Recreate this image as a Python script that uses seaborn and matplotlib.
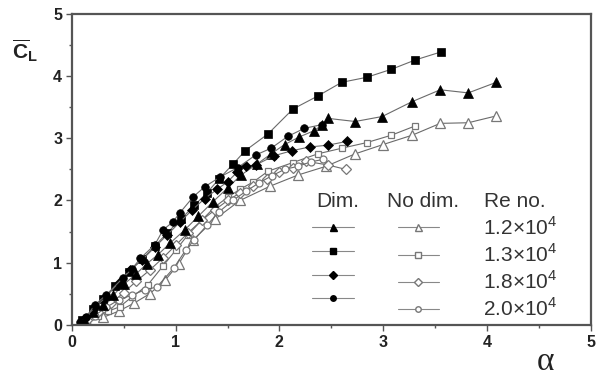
import numpy as np
import matplotlib
matplotlib.use('Agg')
import matplotlib.pyplot as plt
import seaborn as sns
from matplotlib.lines import Line2D

# Dimensional data (filled symbols)
x_d12 = [0.12, 0.2, 0.3, 0.4, 0.5, 0.62, 0.72, 0.83, 0.95, 1.09, 1.22, 1.36, 1.5, 1.63,
         1.78, 1.92, 2.05, 2.19, 2.33, 2.41, 2.47, 2.73, 2.99, 3.28, 3.55, 3.82, 4.09]
y_d12 = [0.08, 0.2, 0.32, 0.48, 0.65, 0.82, 0.98, 1.13, 1.32, 1.53, 1.75, 1.98, 2.2, 2.41,
         2.58, 2.75, 2.9, 3.02, 3.12, 3.21, 3.32, 3.27, 3.35, 3.59, 3.78, 3.73, 3.9]
x_d13 = [0.1, 0.2, 0.3, 0.42, 0.55, 0.68, 0.8, 0.92, 1.05, 1.18, 1.3, 1.42, 1.55, 1.67,
         1.89, 2.13, 2.37, 2.6, 2.84, 3.08, 3.31, 3.56]
y_d13 = [0.08, 0.25, 0.42, 0.62, 0.85, 1.06, 1.27, 1.48, 1.7, 1.92, 2.12, 2.35, 2.58, 2.8,
         3.07, 3.47, 3.68, 3.9, 3.98, 4.11, 4.26, 4.39]
x_d18 = [0.12, 0.22, 0.33, 0.45, 0.56, 0.68, 0.8, 0.92, 1.04, 1.16, 1.28, 1.4, 1.5, 1.59,
         1.68, 1.77, 1.95, 2.12, 2.29, 2.47, 2.65]
y_d18 = [0.1, 0.28, 0.45, 0.68, 0.88, 1.05, 1.25, 1.45, 1.65, 1.85, 2.03, 2.18, 2.3, 2.45,
         2.55, 2.57, 2.72, 2.8, 2.86, 2.89, 2.95]
x_d20 = [0.08, 0.14, 0.22, 0.33, 0.49, 0.58, 0.66, 0.8, 0.88, 0.97, 1.04, 1.17, 1.28, 1.43,
         1.6, 1.77, 1.92, 2.08, 2.24, 2.41]
y_d20 = [0.05, 0.13, 0.32, 0.48, 0.75, 0.9, 1.07, 1.29, 1.53, 1.65, 1.8, 2.06, 2.22, 2.38,
         2.53, 2.73, 2.84, 3.03, 3.16, 3.22]

# Non-dimensional data (open symbols)
x_n12 = [0.15, 0.3, 0.45, 0.6, 0.75, 0.9, 1.03, 1.17, 1.38, 1.62, 1.91, 2.18, 2.45, 2.73,
         3.0, 3.28, 3.55, 3.82, 4.09]
y_n12 = [0.05, 0.12, 0.22, 0.35, 0.5, 0.72, 0.98, 1.37, 1.70, 2.0, 2.23, 2.41, 2.55, 2.75,
         2.9, 3.05, 3.24, 3.25, 3.36]
x_n13 = [0.15, 0.25, 0.35, 0.46, 0.58, 0.73, 0.88, 1.0, 1.12, 1.25, 1.38, 1.5, 1.62, 1.75,
         1.89, 2.13, 2.37, 2.6, 2.84, 3.08, 3.31]
y_n13 = [0.05, 0.15, 0.22, 0.29, 0.45, 0.64, 0.95, 1.2, 1.45, 1.68, 1.9, 2.05, 2.18, 2.3,
         2.47, 2.61, 2.75, 2.84, 2.93, 3.05, 3.2]
x_n18 = [0.15, 0.25, 0.38, 0.5, 0.62, 0.75, 0.88, 1.0, 1.12, 1.25, 1.38, 1.5, 1.62, 1.75,
         1.88, 2.0, 2.13, 2.26, 2.47, 2.64]
y_n18 = [0.08, 0.2, 0.35, 0.52, 0.7, 0.88, 1.08, 1.28, 1.48, 1.68, 1.85, 2.0, 2.12, 2.24,
         2.35, 2.45, 2.52, 2.63, 2.57, 2.50]
x_n20 = [0.12, 0.22, 0.33, 0.45, 0.58, 0.7, 0.82, 0.98, 1.1, 1.18, 1.3, 1.42, 1.55, 1.68,
         1.8, 1.93, 2.05, 2.18, 2.3, 2.42]
y_n20 = [0.05, 0.15, 0.28, 0.4, 0.48, 0.56, 0.61, 0.91, 1.21, 1.37, 1.6, 1.82, 2.0, 2.15,
         2.28, 2.4, 2.5, 2.55, 2.62, 2.66]

re_labels = ['1.2×10$^4$', '1.3×10$^4$', '1.8×10$^4$', '2.0×10$^4$']
tick_vals = [0, 1, 2, 3, 4, 5]
tick_labels = ['0', '1', '2', '3', '4', '5']
markers = ['^', 's', 'D', 'o']
marker_sizes = [7, 5.5, 5.5, 5.5]

dim_series = [(x_d12, y_d12), (x_d13, y_d13), (x_d18, y_d18), (x_d20, y_d20)]
nodim_series = [(x_n12, y_n12), (x_n13, y_n13), (x_n18, y_n18), (x_n20, y_n20)]

sns.set_style('ticks')
plt.rcParams['font.family'] = ['Liberation Sans', 'DejaVu Sans']
plt.rcParams['mathtext.fontset'] = 'custom'
plt.rcParams['mathtext.rm'] = 'Liberation Sans'
plt.rcParams['mathtext.bf'] = 'Liberation Sans:bold'

fig = plt.figure(figsize=(6.04, 3.76), dpi=100)
ax = fig.add_axes([0.119, 0.136, 0.859, 0.827])

line_col = '#6a6a6a'
open_col = '#777777'
txt_col = '#333333'

# open symbols first, filled on top
for (xs, ys), m, ms in zip(nodim_series, markers, marker_sizes):
    sns.lineplot(x=xs, y=ys, ax=ax, sort=False, estimator=None, color=line_col, lw=0.8,
                 marker=m, markersize=ms - 0.5, markerfacecolor='white',
                 markeredgecolor=open_col, markeredgewidth=0.9)
for (xs, ys), m, ms in zip(dim_series, markers, marker_sizes):
    sns.lineplot(x=xs, y=ys, ax=ax, sort=False, estimator=None, color=line_col, lw=0.8,
                 marker=m, markersize=ms, markerfacecolor='black',
                 markeredgecolor='black', markeredgewidth=0.5)

ax.set_xlim(0, 5)
ax.set_ylim(0, 5)
ax.set_xticks(tick_vals)
ax.set_xticklabels(tick_labels, fontweight='bold', fontsize=11.5, color='#222222')
ax.set_yticks(tick_vals)
ax.set_yticklabels(tick_labels, fontweight='bold', fontsize=11.5, color='#222222')
ax.set_xticks(np.arange(0.5, 5, 1.0), minor=True)
ax.set_yticks(np.arange(0.5, 5, 1.0), minor=True)
ax.tick_params(which='major', direction='out', length=4, width=1.0, color='#555555', pad=3)
ax.tick_params(which='minor', direction='out', length=2.5, width=1.0, color='#555555')

for side in ['left', 'bottom', 'top', 'right']:
    ax.spines[side].set_visible(True)
    ax.spines[side].set_color('#555555')
    ax.spines[side].set_linewidth(1.6)

# axis labels
fig.text(0.888, 0.015, 'α', fontsize=24, family='Liberation Serif', color='#222222')
fig.text(0.02, 0.845, r'$\overline{\mathbf{C}}_{\mathbf{L}}$', fontsize=15, color='#222222')

# legend: two marker columns + Re labels
handles = []
labels = []
for m, ms in zip(markers, marker_sizes):
    handles.append(Line2D([], [], color='#888888', lw=0.8, marker=m, markersize=ms * 0.72,
                          markerfacecolor='black', markeredgecolor='black'))
    labels.append('')
for m, ms, lab in zip(markers, marker_sizes, re_labels):
    handles.append(Line2D([], [], color='#888888', lw=0.8, marker=m, markersize=ms * 0.72,
                          markerfacecolor='white', markeredgecolor=open_col))
    labels.append(lab)
leg = ax.legend(handles, labels, ncol=2, frameon=False, fontsize=15,
                handlelength=2.0, handletextpad=2.1, columnspacing=0.0,
                labelspacing=0.22, borderpad=0.4,
                loc='upper left', bbox_to_anchor=(0.427, 0.41))
for t in leg.get_texts():
    t.set_color(txt_col)

ax.text(0.5125, 0.398, 'Dim.', transform=ax.transAxes, fontsize=15, ha='center', va='center',
        color=txt_col)
ax.text(0.676, 0.398, 'No dim.', transform=ax.transAxes, fontsize=15, ha='center', va='center',
        color=txt_col)
ax.text(0.794, 0.398, 'Re no.', transform=ax.transAxes, fontsize=15, ha='left', va='center',
        color=txt_col)

fig.savefig('out.png', dpi=100)
